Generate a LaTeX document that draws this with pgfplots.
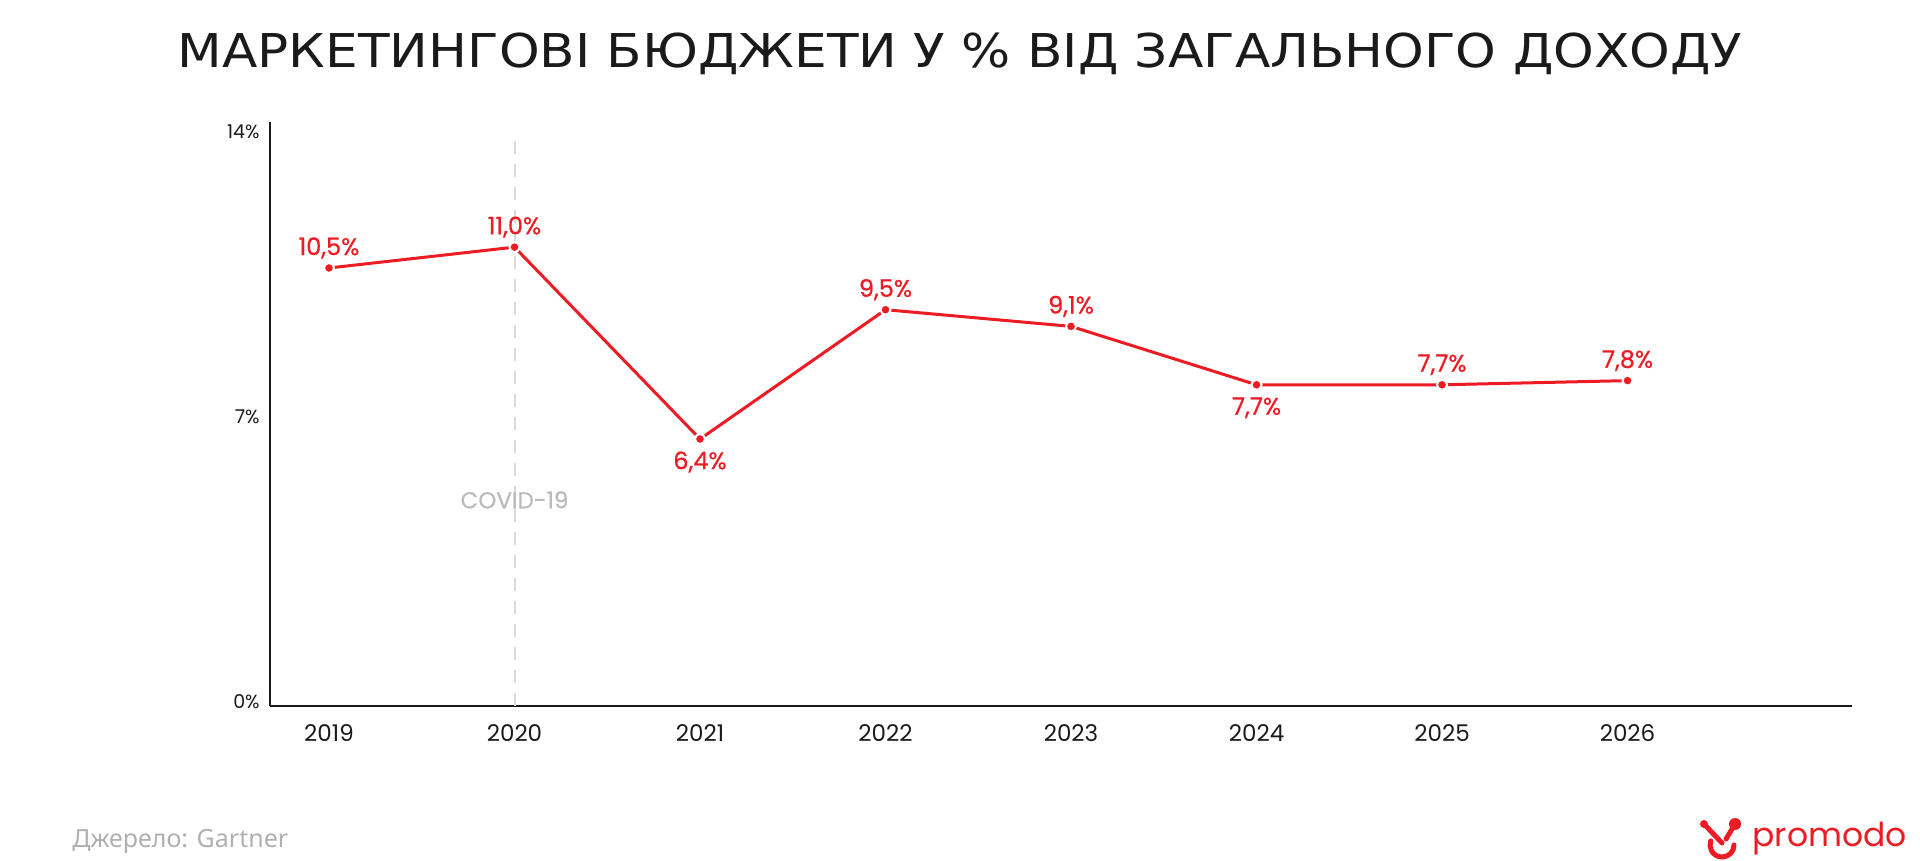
\documentclass[border=0pt]{standalone}
\usepackage{fontspec}
\usepackage{pgfplots}
\usepackage{pgfplotstable}
\pgfplotsset{compat=1.18}
\setmainfont{Poppins}
\newfontfamily\titlefont[FakeStretch=1.11]{DejaVu Sans}
\newfontfamily\srcfont{Noto Sans}
\newfontfamily\medfont[FakeBold=0.7]{Poppins}
\definecolor{pred}{RGB}{237,28,36}
\definecolor{covid}{RGB}{187,187,187}
\definecolor{dashc}{RGB}{217,217,217}
\definecolor{srcc}{RGB}{176,176,176}
\definecolor{ink}{RGB}{26,26,26}

\pgfplotstableread{
x y lab dy
0 10.5 10,5 10
1 11.0 11,0 10
2 6.4 6,4 -11.5
3 9.5 9,5 10
4 9.1 9,1 10
5 7.7 7,7 -11.5
6 7.7 7,7 10
7 7.8 7,8 10
}\datatable

\begin{document}
\begin{tikzpicture}
\path[use as bounding box] (0,0) rectangle (960pt,430.5pt);
\node[font=\titlefont\fontsize{23.3pt}{26pt}\selectfont, text=ink, inner sep=0pt] at (480pt,403.5pt) {МАРКЕТИНГОВІ БЮДЖЕТИ У \% ВІД ЗАГАЛЬНОГО ДОХОДУ};
\begin{axis}[
 at={(135pt,77.5pt)}, anchor=south west,
 scale only axis, width=791pt, height=292pt,
 xmin=-0.318, xmax=8.21, ymin=0, ymax=14,
 axis x line=bottom, axis y line=left,
 axis line style={-, line width=0.75pt, draw=ink},
 xtick={0,...,7}, xticklabels={2019,2020,2021,2022,2023,2024,2025,2026},
 ytick={0,7,14},
 yticklabels={{\raisebox{2pt}[\height][\depth]{0\%}},{\raisebox{-1.5pt}[\height][\depth]{7\%}},{\raisebox{-5pt}[\height][\depth]{14\%}}},
 major tick length=0pt,
 xticklabel style={font=\fontsize{11.5pt}{13pt}\selectfont, text=ink, anchor=center, yshift=-13.5pt},
 yticklabel style={font=\fontsize{9.5pt}{11pt}\selectfont, text=ink, anchor=east, inner xsep=0pt, xshift=-5pt},
 clip=false,
]
\draw[dashc, line width=1pt, dash pattern=on 6.5pt off 5pt] (axis cs:1,0) -- (axis cs:1,13.65);
\node[text=covid, font=\medfont\fontsize{11.5pt}{13pt}\selectfont] at (axis cs:1,4.94) {COVID-19};
\addplot[pred, line width=1.5pt, mark=*, mark size=2.5pt,
 mark options={fill=pred, draw=white, line width=1pt},
 nodes near coords={\pgfplotspointmeta\%}, point meta=explicit symbolic,
 visualization depends on={\thisrow{dy} \as \dy},
 every node near coord/.append style={anchor=center, yshift=\dy pt, text=pred, font=\medfont\fontsize{12pt}{13pt}\selectfont, inner sep=0pt},
] table[x=x,y=y,meta=lab]{\datatable};
\end{axis}
\node[anchor=west, text=srcc, font=\srcfont\fontsize{12.5pt}{14pt}\selectfont, inner sep=0pt] at (36pt,10pt) {Джерело: Gartner};
% logo
\fill[pred] (852pt,18.5pt) circle (2pt);
\fill[pred] (867.5pt,18.5pt) circle (3pt);
\draw[pred, line width=2.5pt, line cap=round] (852pt,18.5pt) -- (861pt,9pt);
\draw[pred, line width=2.5pt, line cap=round] (867.5pt,18.5pt) -- (863pt,11pt);
\draw[pred, line width=2.5pt, line cap=round] (867pt,8pt) arc (0:-200:6pt);
\node[anchor=base west, text=pred, font=\fontsize{16.5pt}{18pt}\selectfont, inner sep=0pt] at (876pt,7pt) {promodo};
\end{tikzpicture}
\end{document}
